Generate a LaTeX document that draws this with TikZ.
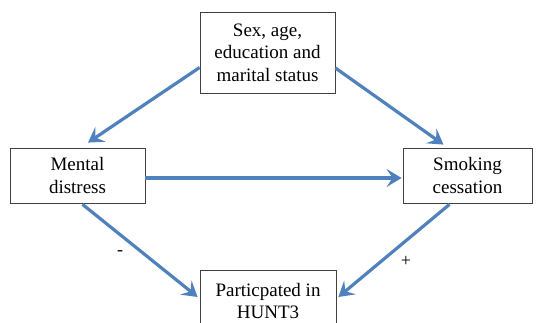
\documentclass[tikz,border=0pt]{standalone}
\usepackage{fontspec}
\setmainfont{Liberation Serif}
\usetikzlibrary{arrows.meta}
\definecolor{arrblue}{RGB}{79,129,189}
\begin{document}
\begin{tikzpicture}[x=1pt,y=1pt,
  box/.style={draw=black!75, line width=0.8pt, fill=white, align=center, inner sep=0pt,
    font=\fontsize{19}{22.5}\selectfont},
  conn/.style={draw=arrblue, line width=3.2pt, -{Stealth[length=15pt,width=18pt,inset=6pt]}},
  sign/.style={font=\fontsize{18}{20}\selectfont}]
\useasboundingbox (0,0) rectangle (536,-323);
\begin{scope}
\clip (0,0) rectangle (536,-323);
\node[box, minimum width=135pt, minimum height=81pt] (top) at (267.5,-52.5) {Sex, age,\\education and\\marital status};
\node[box, minimum width=135pt, minimum height=55pt] (mental) at (77.5,-175.5) {Mental\\distress};
\node[box, minimum width=129pt, minimum height=55pt] (smoking) at (467.5,-175.5) {Smoking\\cessation};
\node[box, minimum width=136pt, minimum height=62pt, text depth=0pt] (hunt) at (268,-301) {Particpated in\\HUNT3};
\draw[conn] ([yshift=-15pt]top.west) -- ([xshift=10.5pt,yshift=5pt]mental.north);
\draw[conn] ([yshift=-15.5pt]top.east) -- ([xshift=-24pt,yshift=3pt]smoking.north);
\draw[conn] ([yshift=-2.5pt]mental.east) -- ([yshift=-2.5pt,xshift=-1pt]smoking.west);
\draw[conn] ([xshift=5pt,yshift=-1pt]mental.south) -- ([xshift=-2pt,yshift=4pt]hunt.west);
\draw[conn] ([xshift=-18pt,yshift=-1pt]smoking.south) -- ([xshift=2pt,yshift=4pt]hunt.east);
\node[sign] (minus) at (120,-253) {-};
\node[sign] (plus) at (406,-261) {+};
\end{scope}
\end{tikzpicture}
\end{document}
